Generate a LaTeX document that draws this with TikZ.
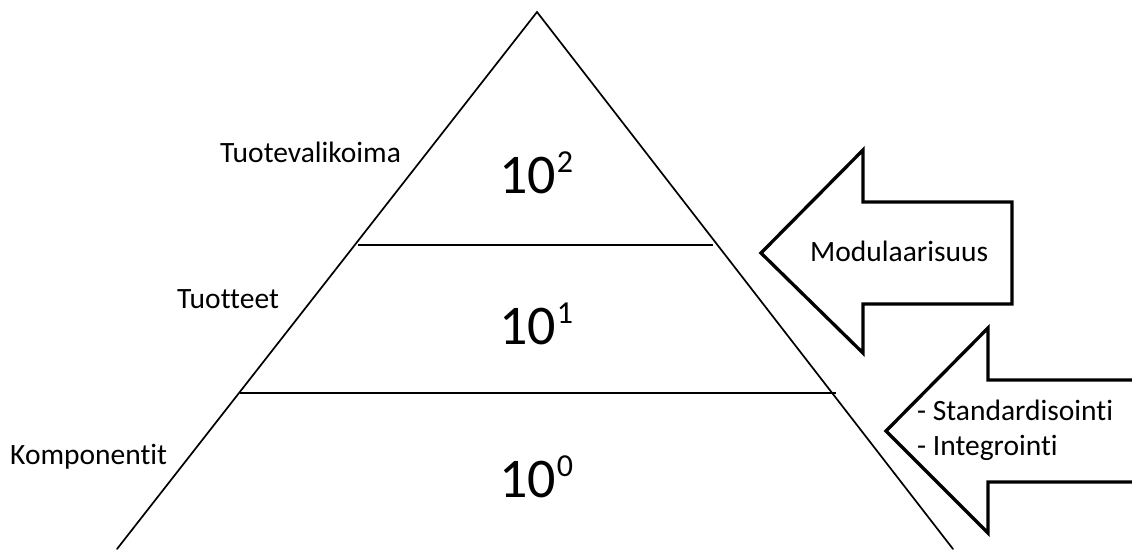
\documentclass[tikz,border=0pt]{standalone}
\usepackage{fontspec}
\setmainfont{Carlito}[Ligatures={NoCommon}]
\begin{document}
\begin{tikzpicture}[x=1pt,y=-1pt,
  tri/.style={line width=1.7pt,line cap=round,line join=miter},
  band/.style={line width=1.9pt},
  bigarrow/.style={line width=3.3pt,line join=miter,miter limit=10,fill=white},
  lbl/.style={inner sep=0pt,anchor=base west,font=\fontsize{29.5}{35}\selectfont},
  pow/.style={inner sep=0pt,anchor=base west,font=\fontsize{56}{60}\selectfont}]
\useasboundingbox (0,0) rectangle (1132,549);
\clip (0,0) rectangle (1132,549);
\fill[white] (0,0) rectangle (1132,549);
% pyramid
\coordinate (apex) at (537,12);
\coordinate (bl) at (117,549);
\coordinate (br) at (953,549);
\draw[tri] (bl) -- (apex) -- (br);
\coordinate (l1a) at (358,245);
\coordinate (l1b) at (713,245);
\coordinate (l2a) at (240,393);
\coordinate (l2b) at (836,393);
\draw[band] (l1a) -- (l1b);
\draw[band] (l2a) -- (l2b);
% level values
\node[pow] (p2) at (499,193) {10\hspace{1pt}\raisebox{21pt}{\fontsize{32}{32}\selectfont 2}};
\node[pow] (p1) at (499,344) {10\hspace{1pt}\raisebox{21pt}{\fontsize{32}{32}\selectfont 1}};
\node[pow] (p0) at (499,497) {10\hspace{1pt}\raisebox{21pt}{\fontsize{32}{32}\selectfont 0}};
% level labels
\node[lbl] (tv) at (220,162) {Tuotevalikoima};
\node[lbl] (tt) at (177,308) {Tuotteet};
\node[lbl] (kp) at (10,464) {Komponentit};
% arrows
\draw[bigarrow] (761,253) -- (863,150) -- (863,202) -- (1012,202) -- (1012,304) -- (863,304) -- (863,353) -- cycle;
\node[lbl] (mod) at (810,261) {Modulaarisuus};
\draw[bigarrow] (886,431) -- (988,328) -- (988,380) -- (1145,380) -- (1145,482) -- (988,482) -- (988,533) -- cycle;
\node[lbl] (std) at (917,420) {- Standardisointi};
\node[lbl] (int) at (917,455) {- Integrointi};
\end{tikzpicture}
\end{document}
